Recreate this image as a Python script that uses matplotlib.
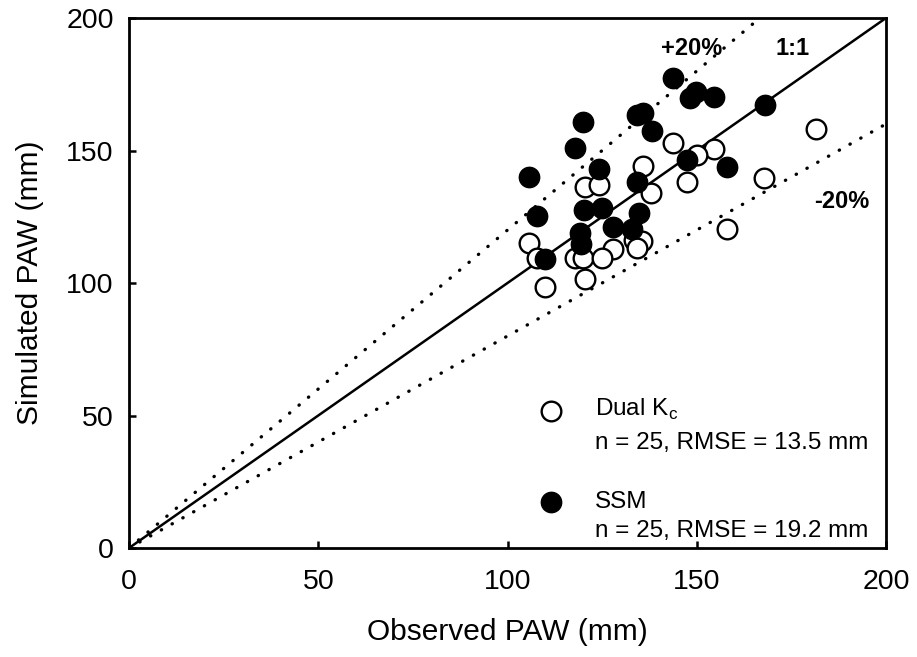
import matplotlib
matplotlib.use("Agg")
import matplotlib.pyplot as plt
import numpy as np

plt.rcParams['font.family'] = ['Liberation Sans', 'DejaVu Sans']
plt.rcParams['mathtext.fontset'] = 'custom'
plt.rcParams['mathtext.rm'] = 'Liberation Sans'

# Dual Kc (open circles): observed vs simulated PAW (mm)
dual_obs = [143.7, 154.6, 150.0, 135.8, 167.8, 147.3, 120.5, 124.3, 138.0, 158.0, 105.6,
            107.7, 128.0, 133.3, 135.5, 134.3, 117.8, 120.0, 125.0, 109.9, 120.4, 181.6]
dual_sim = [153.0, 150.4, 148.3, 144.2, 139.5, 138.0, 136.2, 137.0, 133.8, 120.3, 115.0,
            109.3, 113.0, 116.3, 116.0, 113.1, 109.3, 109.3, 109.3, 98.6, 101.6, 158.0]

# SSM (filled circles)
ssm_obs = [143.7, 149.7, 148.2, 154.6, 168.0, 134.3, 135.9, 120.0, 138.1, 117.8, 105.8, 124.2,
           147.5, 158.1, 134.3, 107.7, 120.3, 125.0, 134.8, 128.0, 132.8, 119.2, 119.3, 109.9]
ssm_sim = [177.2, 172.2, 169.7, 170.1, 167.2, 163.4, 164.3, 160.6, 157.4, 150.8, 140.1, 143.1,
           146.4, 143.9, 138.2, 125.3, 127.5, 128.3, 126.5, 121.2, 120.3, 119.0, 114.8, 109.1]

ticks = [0, 50, 100, 150, 200]
line_x = np.array([0, 200])

fig = plt.figure(figsize=(9.17, 6.57), dpi=100)
ax = fig.add_axes([0.1407, 0.1659, 0.9662 - 0.1407, 0.9726 - 0.1659])

# reference lines: 1:1 and +/-20%
dots = (0, (0.1, 3.6))
ax.plot(line_x, line_x, color='black', lw=1.8, zorder=1)
ax.plot(line_x, 1.2 * line_x, color='black', lw=2.4, linestyle=dots,
        dash_capstyle='round', zorder=1)
ax.plot(line_x, 0.8 * line_x, color='black', lw=2.4, linestyle=dots,
        dash_capstyle='round', zorder=1)

ax.scatter(dual_obs, dual_sim, s=200, facecolor='white', edgecolor='black', linewidth=1.7, zorder=2)
ax.scatter(ssm_obs, ssm_sim, s=215, facecolor='black', edgecolor='black', linewidth=1, zorder=3)

ax.text(148.7, 188.6, '+20%', fontsize=17, fontweight='bold', ha='center', va='center')
ax.text(175.3, 188.6, '1:1', fontsize=17, fontweight='bold', ha='center', va='center')
ax.text(188.2, 130.7, '-20%', fontsize=17, fontweight='bold', ha='center', va='center')

# legend drawn by hand
ax.scatter([0.5575], [0.258], s=200, facecolor='white', edgecolor='black', linewidth=1.7,
           transform=ax.transAxes, clip_on=False)
ax.scatter([0.5575], [0.087], s=215, facecolor='black', edgecolor='black',
           transform=ax.transAxes, clip_on=False)
ax.text(0.6156, 0.262, r'Dual K$_\mathregular{c}$', fontsize=17.5, va='center', transform=ax.transAxes)
ax.text(0.6156, 0.198, 'n = 25, RMSE = 13.5 mm', fontsize=17.5, va='center', transform=ax.transAxes)
ax.text(0.6156, 0.087, 'SSM', fontsize=17.5, va='center', transform=ax.transAxes)
ax.text(0.6156, 0.032, 'n = 25, RMSE = 19.2 mm', fontsize=17.5, va='center', transform=ax.transAxes)

ax.set_xlim(0, 200)
ax.set_ylim(0, 200)
ax.set_xticks(ticks)
ax.set_yticks(ticks)
ax.tick_params(direction='in', length=5, width=1.8, labelsize=20.5)
ax.tick_params(axis='x', pad=15)
ax.tick_params(axis='y', pad=11)
for sp in ax.spines.values():
    sp.set_linewidth(2)

ax.set_xlabel('Observed PAW (mm)', fontsize=21.5, labelpad=17)
ax.set_ylabel('Simulated PAW (mm)', fontsize=21.5, labelpad=16)

fig.savefig('out.png', dpi=100)
